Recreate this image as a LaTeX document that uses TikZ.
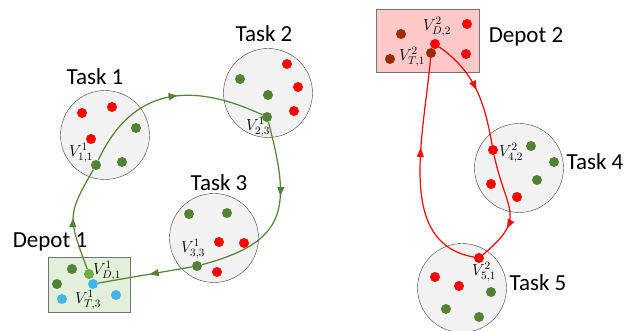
\RequirePackage{fix-cm}
\documentclass[tikz,border=0pt]{standalone}
\usepackage{fontspec}
\setsansfont{Carlito}
\usetikzlibrary{arrows.meta,decorations.markings}

\definecolor{grn}{HTML}{548235}
\definecolor{lgrn}{HTML}{70AD47}
\definecolor{rd}{HTML}{FF0000}
\definecolor{drd}{HTML}{9C2B00}
\definecolor{blu}{HTML}{41B6E6}
\definecolor{dep1}{HTML}{E2EFDA}
\definecolor{dep2}{HTML}{FFC9C9}

\begin{document}
\begin{tikzpicture}[x=1pt,y=1pt]
\tikzstyle{task} = [circle, draw=black!75, fill=black!5, minimum size=89pt, inner sep=0pt]
\tikzstyle{depot} = [rectangle, draw=black!55, fill=#1, inner sep=0pt]
\tikzstyle{title} = [font=\fontsize{23}{26}\sffamily, inner sep=0pt]
\tikzstyle{vlab} = [font=\fontsize{16}{16}\selectfont, inner sep=0pt]
\tikzstyle{dot} = [circle, inner sep=0pt, minimum size=10pt]
\tikzstyle{route} = [line width=1.2pt, postaction={decorate},
  decoration={markings, mark=at position #1 with {\arrow{Triangle[length=9pt,width=7pt]}}}]
\useasboundingbox (0,0) rectangle (626,331);

% task areas and depots
\node [task] (task1) at (105,196) {};
\node [title] (task1lbl) at (95,254) {Task 1};
\node [task] (task2) at (268,238) {};
\node [title] (task2lbl) at (264,297) {Task 2};
\node [task] (task3) at (214,93) {};
\node [title] (task3lbl) at (219,148) {Task 3};
\node [task] (task4) at (519,163) {};
\node [title] (task4lbl) at (595,169) {Task 4};
\node [task] (task5) at (462,43) {};
\node [title] (task5lbl) at (538,48) {Task 5};
\node [depot=dep1, minimum width=82pt, minimum height=55pt] (depot1) at (89,46.5) {};
\node [title] (depot1lbl) at (50,89) {Depot 1};
\node [depot=dep2, minimum width=103pt, minimum height=63pt] (depot2) at (427.5,290.5) {};
\node [title] (depot2lbl) at (526,294) {Depot 2};

% task 1
\node [dot, fill=rd] (t1a) at (82,218) {};
\node [dot, fill=rd] (t1b) at (112,224) {};
\node [dot, fill=rd] (t1c) at (91,192) {};
\node [dot, fill=grn] (t1d) at (136,203) {};
\node [dot, fill=grn] (t1e) at (122,169) {};
\node [dot, fill=grn] (v11) at (96,166) {};
\node [vlab] (v11lbl) at (81,178) {$V^1_{1,1}$};
% task 2
\node [dot, fill=rd] (t2a) at (287,267) {};
\node [dot, fill=rd] (t2b) at (298,244) {};
\node [dot, fill=rd] (t2c) at (294,220) {};
\node [dot, fill=grn] (t2d) at (240,252) {};
\node [dot, fill=grn] (t2e) at (268,236) {};
\node [dot, fill=grn] (v23) at (267,214) {};
\node [vlab] (v23lbl) at (258,204) {$V^1_{2,3}$};
% task 3
\node [dot, fill=grn] (t3a) at (189,117) {};
\node [dot, fill=grn] (t3b) at (227,118) {};
\node [dot, fill=rd] (t3c) at (219,89) {};
\node [dot, fill=rd] (t3d) at (244,88) {};
\node [dot, fill=rd] (t3e) at (217,59) {};
\node [dot, fill=grn] (v33) at (197,65) {};
\node [vlab] (v33lbl) at (193,82) {$V^1_{3,3}$};
% depot 1
\node [dot, fill=grn] (d1a) at (72,62) {};
\node [dot, fill=grn] (d1b) at (57,47) {};
\node [dot, fill=blu] (d1c) at (62,32) {};
\node [dot, fill=blu] (d1d) at (116,36) {};
\node [dot, fill=blu] (vT3) at (93,47) {};
\node [dot, fill=lgrn] (vD1) at (89,57) {};
\node [vlab] (vD1lbl) at (107,60) {$V^1_{D,1}$};
\node [vlab] (vT3lbl) at (88,31) {$V^1_{T,3}$};
% depot 2
\node [dot, fill=drd] (d2a) at (401,297) {};
\node [dot, fill=drd] (d2b) at (390,272) {};
\node [dot, fill=rd] (d2c) at (467,307) {};
\node [dot, fill=rd] (d2d) at (466,277) {};
\node [dot, fill=drd] (vT1) at (431,278) {};
\node [dot, fill=rd] (vD2) at (435,287) {};
\node [vlab] (vD2lbl) at (437,304) {$V^2_{D,2}$};
\node [vlab] (vT1lbl) at (412,274) {$V^2_{T,1}$};
% task 4
\node [dot, fill=grn] (t4a) at (531,185) {};
\node [dot, fill=grn] (t4b) at (554,169) {};
\node [dot, fill=grn] (t4c) at (537,151) {};
\node [dot, fill=rd] (t4d) at (491,147) {};
\node [dot, fill=rd] (t4e) at (517,134) {};
\node [dot, fill=rd] (v42) at (493,181) {};
\node [vlab] (v42lbl) at (511,178) {$V^2_{4,2}$};
% task 5
\node [dot, fill=rd] (t5a) at (435,54) {};
\node [dot, fill=rd] (t5b) at (459,45) {};
\node [dot, fill=grn] (t5c) at (491,39) {};
\node [dot, fill=grn] (t5d) at (446,22) {};
\node [dot, fill=grn] (t5e) at (479,14) {};
\node [dot, fill=rd] (v51) at (479,73) {};
\node [vlab] (v51lbl) at (484,59) {$V^2_{5,1}$};

% route of robot 1
\tikzstyle{every path}=[draw=grn]
\path [route=0.5] (vD1) to [out=110, in=240, looseness=1.4] (v11);
\path [route=0.55] (v11) to [out=65, in=155, looseness=1.2] (v23);
\path [route=0.4] (v23) to [out=-75, in=15, looseness=1.45] (v33);
\path [route=0.45] (v33) -- (vT3);
% route of robot 2
\tikzstyle{every path}=[draw=rd]
\path [route=0.5] (vD2) to [out=-35, in=100] (v42);
\path [route=0.68] (v42) to [out=-78, in=40, looseness=1.5] (v51);
\path [route=0.6] (v51) to [out=170, in=-95] (vT1);

\end{tikzpicture}
\end{document}
